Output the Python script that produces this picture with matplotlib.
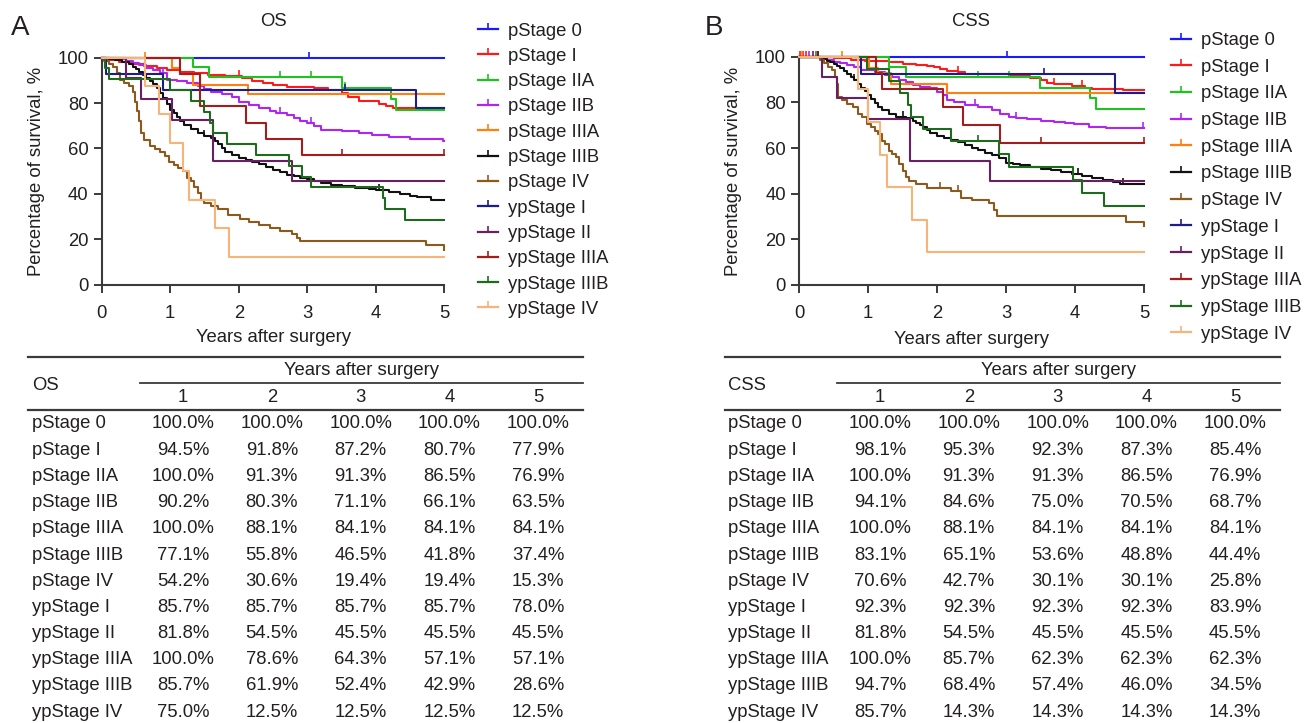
import numpy as np
import matplotlib
matplotlib.use("Agg")
import matplotlib.pyplot as plt
from matplotlib.lines import Line2D

plt.rcParams['font.family'] = ['Liberation Sans', 'DejaVu Sans']
plt.rcParams['font.size'] = 13.3

W, H = 1304, 723

# ---------------- data ----------------
groups = ["pStage 0", "pStage I", "pStage IIA", "pStage IIB", "pStage IIIA", "pStage IIIB",
          "pStage IV", "ypStage I", "ypStage II", "ypStage IIIA", "ypStage IIIB", "ypStage IV"]
colors = ["#1a1aff", "#ff1a1a", "#1fc21f", "#b026f0", "#ff7f10", "#111111",
          "#8c5a1c", "#1c1c8c", "#6a1f63", "#a51c1c", "#1e6b1e", "#f7b478"]

# OS Kaplan-Meier step points (time in years, survival %)
os_pstage0_t = []
os_pstage0_s = []
os_pstage1_t = [0.08, 0.25, 0.45, 0.62, 0.8, 0.95, 1.15, 1.35, 1.55, 1.8, 2.05, 2.2, 2.35, 2.5, 2.7,
                3.1, 3.3, 3.5, 3.6, 3.75, 4.05, 4.15, 4.25]
os_pstage1_s = [99.0, 98.0, 97.2, 96.4, 95.6, 94.5, 93.8, 93.0, 92.4, 91.8, 90.8, 89.8, 88.8, 88.0, 87.2,
                86.5, 85.8, 84.5, 82.5, 80.7, 79.6, 78.6, 77.9]
os_pstage2a_t = [1.33, 1.56, 3.50, 4.22, 4.30]
os_pstage2a_s = [95.7, 91.3, 86.5, 81.7, 76.9]
os_pstage2b_t = [0.2, 0.35, 0.45, 0.55, 0.65, 0.75, 0.85, 0.95, 1.1, 1.25, 1.4, 1.5, 1.6, 1.75, 1.9, 2.0,
                 2.15, 2.3, 2.45, 2.55, 2.7, 2.8, 2.9, 3.0, 3.1, 3.2, 3.5, 3.75, 3.95, 4.2, 4.5, 4.98]
os_pstage2b_s = [99.2, 98.4, 97.6, 96.8, 95.6, 94.4, 93.0, 90.2, 89.6, 88.8, 87.4, 86.0, 85.0, 84.0, 82.6, 80.3,
                 79.3, 78.0, 76.6, 75.8, 74.8, 73.6, 72.2, 71.1, 69.8, 68.3, 67.6, 67.0, 66.1, 65.0, 64.0, 63.5]
os_pstage3a_t = [1.02, 1.15, 1.33, 2.13]
os_pstage3a_s = [95.2, 92.9, 88.1, 84.1]
os_pstage3b_t = [0.1, 0.2, 0.3, 0.4, 0.45, 0.5, 0.55, 0.6, 0.65, 0.7, 0.75, 0.8, 0.85, 0.9, 0.95, 1.0,
                 1.05, 1.1, 1.15, 1.2, 1.3, 1.4, 1.5, 1.6, 1.65, 1.7, 1.75, 1.8, 1.9, 2.0, 2.1, 2.2,
                 2.3, 2.4, 2.5, 2.6, 2.7, 2.8, 2.9, 3.0, 3.1, 3.2, 3.35, 3.5, 3.7, 3.9, 4.0, 4.2,
                 4.35, 4.5, 4.6, 4.8]
os_pstage3b_s = [99.5, 99.0, 98.2, 97.0, 96.0, 95.0, 93.8, 92.5, 91.2, 89.8, 88.3, 86.8, 84.5, 82.0, 79.5, 77.1,
                 75.5, 73.8, 72.0, 70.5, 68.5, 66.8, 65.5, 64.5, 63.2, 61.8, 60.0, 58.5, 57.0, 55.8, 55.0, 54.2,
                 53.0, 51.8, 50.5, 49.5, 48.5, 47.8, 47.0, 46.5, 45.6, 44.8, 44.0, 43.3, 42.6, 42.0, 41.8, 41.0,
                 40.0, 39.0, 38.5, 37.4]
os_pstage4_t = [0.04, 0.1, 0.17, 0.22, 0.27, 0.33, 0.4, 0.45, 0.48, 0.51, 0.54, 0.57, 0.62, 0.7, 0.78,
                0.85, 0.92, 0.98, 1.05, 1.12, 1.18, 1.25, 1.3, 1.35, 1.4, 1.45, 1.5, 1.6, 1.7, 1.85,
                2.02, 2.15, 2.3, 2.45, 2.6, 2.78, 2.85, 2.9, 4.74, 5.0]
os_pstage4_s = [98.6, 97.2, 95.8, 93.0, 90.3, 88.9, 87.5, 84.7, 80.6, 76.4, 72.2, 66.7, 63.9, 61.1, 59.7,
                58.3, 56.9, 54.2, 52.8, 51.4, 50.0, 47.2, 45.8, 43.1, 40.3, 37.5, 36.1, 34.7, 33.3, 30.6,
                29.2, 27.8, 26.4, 25.0, 23.6, 22.2, 20.8, 19.4, 17.6, 15.3]
os_ypstage1_t = [0.06, 0.9, 4.58]
os_ypstage1_s = [92.9, 85.7, 78.0]
os_ypstage2_t = [0.36, 0.57, 1.02, 1.63, 2.77]
os_ypstage2_s = [90.9, 81.8, 72.7, 54.5, 45.5]
os_ypstage3a_t = [1.15, 1.43, 2.1, 2.4, 2.93]
os_ypstage3a_s = [92.9, 78.6, 71.4, 64.3, 57.1]
os_ypstage3b_t = [0.05, 0.1, 1.0, 1.3, 1.5, 1.58, 1.62, 1.83, 2.25, 2.73, 2.93, 3.06, 4.1, 4.13, 4.43]
os_ypstage3b_s = [95.2, 90.5, 85.7, 81.0, 76.2, 71.4, 66.7, 61.9, 57.1, 52.4, 47.6, 42.9, 38.1, 33.3, 28.6]
os_ypstage4_t = [0.63, 0.83, 1.0, 1.18, 1.28, 1.65, 1.86]
os_ypstage4_s = [87.5, 75.0, 62.5, 50.0, 37.5, 25.0, 12.5]

# CSS Kaplan-Meier step points
css_pstage0_t = []
css_pstage0_s = []
css_pstage1_t = [0.5, 0.75, 0.95, 1.3, 1.5, 1.7, 1.85, 1.95, 2.05, 2.15, 2.3, 2.4, 2.6, 3.05, 3.35, 3.5,
                 3.6, 3.7, 3.95, 4.15, 4.25, 4.7]
css_pstage1_s = [99.3, 98.7, 98.1, 97.6, 97.0, 96.4, 95.8, 95.3, 94.6, 93.9, 93.2, 92.6, 92.3, 91.6, 90.8, 89.8,
                 88.6, 88.0, 87.3, 86.5, 85.9, 85.4]
css_pstage2a_t = [1.31, 1.55, 3.49, 4.22, 4.30]
css_pstage2a_s = [95.7, 91.3, 86.5, 81.7, 76.9]
css_pstage2b_t = [0.3, 0.4, 0.5, 0.6, 0.7, 0.8, 0.9, 1.1, 1.25, 1.35, 1.45, 1.55, 1.65, 1.75, 1.9, 2.0,
                  2.08, 2.14, 2.25, 2.4, 2.6, 2.8, 2.92, 3.05, 3.15, 3.3, 3.5, 3.7, 3.85, 3.98, 4.2, 4.45]
css_pstage2b_s = [99.3, 98.5, 97.8, 97.1, 96.3, 95.6, 94.1, 93.4, 92.0, 91.2, 89.8, 89.0, 87.6, 86.8, 86.1, 84.6,
                  83.2, 81.0, 80.3, 78.8, 78.1, 76.6, 75.0, 73.7, 73.0, 72.5, 72.0, 71.5, 71.0, 70.5, 69.3, 68.7]
css_pstage3a_t = [1.02, 1.15, 1.33, 2.14]
css_pstage3a_s = [95.2, 92.9, 88.1, 84.1]
css_pstage3b_t = [0.3, 0.35, 0.4, 0.45, 0.5, 0.55, 0.6, 0.65, 0.7, 0.75, 0.8, 0.85, 0.9, 0.95, 1.0, 1.05,
                  1.1, 1.15, 1.2, 1.3, 1.4, 1.55, 1.65, 1.7, 1.75, 1.8, 1.85, 1.9, 2.0, 2.1, 2.2, 2.3,
                  2.4, 2.5, 2.6, 2.7, 2.8, 2.9, 3.0, 3.1, 3.2, 3.35, 3.5, 3.65, 3.8, 3.95, 4.1, 4.25,
                  4.4, 4.55, 4.65]
css_pstage3b_s = [99.5, 99.0, 98.3, 97.5, 96.6, 95.8, 95.0, 93.8, 92.5, 91.2, 89.8, 88.0, 86.5, 85.0, 83.1, 81.5,
                  79.6, 78.0, 76.5, 75.0, 73.8, 73.0, 72.0, 71.0, 70.0, 69.0, 67.8, 66.5, 65.1, 64.3, 63.5, 62.5,
                  61.3, 60.2, 59.0, 57.7, 56.8, 55.5, 53.6, 53.0, 52.5, 51.8, 51.0, 50.2, 49.5, 48.8, 47.6, 46.8,
                  46.0, 45.2, 44.4]
css_pstage4_t = [0.3, 0.36, 0.42, 0.48, 0.52, 0.55, 0.57, 0.62, 0.7, 0.78, 0.85, 0.92, 0.98, 1.05, 1.1,
                 1.15, 1.2, 1.25, 1.3, 1.35, 1.4, 1.45, 1.5, 1.55, 1.6, 1.7, 1.85, 2.2, 2.35, 2.5, 2.75,
                 2.82, 2.87, 4.74, 5.0]
css_pstage4_s = [98.5, 97.1, 95.6, 94.1, 91.2, 88.2, 82.4, 80.9, 79.4, 77.9, 75.0, 73.5, 70.6, 69.1, 67.6,
                 66.2, 63.2, 61.8, 58.8, 57.4, 55.9, 52.9, 50.0, 47.1, 45.6, 44.1, 42.7, 41.2, 38.2, 37.3, 35.8,
                 33.0, 30.1, 27.7, 25.8]
css_ypstage1_t = [0.9, 4.58]
css_ypstage1_s = [92.3, 83.9]
css_ypstage2_t = [0.33, 0.55, 1.0, 1.61, 2.77]
css_ypstage2_s = [90.9, 81.8, 72.7, 54.5, 45.5]
css_ypstage3a_t = [1.12, 1.2, 2.08, 2.38, 2.92]
css_ypstage3a_s = [92.9, 85.7, 77.9, 70.1, 62.3]
css_ypstage3b_t = [0.98, 1.3, 1.46, 1.58, 1.62, 1.8, 2.2, 2.9, 3.05, 3.97, 4.1, 4.42]
css_ypstage3b_s = [94.7, 89.5, 84.2, 78.9, 73.7, 68.4, 63.2, 57.4, 51.7, 46.0, 40.2, 34.5]
css_ypstage4_t = [0.85, 1.0, 1.17, 1.28, 1.64, 1.85]
css_ypstage4_s = [85.7, 71.4, 57.1, 42.9, 28.6, 14.3]

# censoring marks (times)
os_censor = {"pStage 0": [3.02], "pStage IIA": [2.6, 3.05, 3.55], "pStage IIIA": [0.63],
             "ypStage I": [3.55], "ypStage IIIA": [3.5, 5.0], "pStage IIB": [0.9, 2.6, 3.05],
             "pStage IIIB": [1.5, 4.05], "pStage I": [2.0]}
css_censor = {"pStage 0": [3.02], "pStage I": [0.02, 0.06, 0.1, 2.3, 3.7, 4.1], "pStage IIA": [2.6, 3.05],
              "pStage IIIA": [0.63, 0.05], "ypStage I": [3.55], "ypStage IIIA": [3.5, 5.0],
              "pStage IIB": [0.15, 2.55, 3.15, 4.98], "pStage IIIB": [0.28, 0.8, 1.5, 4.05, 4.7],
              "pStage IV": [0.25, 2.05, 2.3], "ypStage IIIB": [2.6], "ypStage II": [0.2]}

os_times = [os_pstage0_t, os_pstage1_t, os_pstage2a_t, os_pstage2b_t, os_pstage3a_t, os_pstage3b_t,
            os_pstage4_t, os_ypstage1_t, os_ypstage2_t, os_ypstage3a_t, os_ypstage3b_t, os_ypstage4_t]
os_surv = [os_pstage0_s, os_pstage1_s, os_pstage2a_s, os_pstage2b_s, os_pstage3a_s, os_pstage3b_s,
           os_pstage4_s, os_ypstage1_s, os_ypstage2_s, os_ypstage3a_s, os_ypstage3b_s, os_ypstage4_s]
css_times = [css_pstage0_t, css_pstage1_t, css_pstage2a_t, css_pstage2b_t, css_pstage3a_t, css_pstage3b_t,
             css_pstage4_t, css_ypstage1_t, css_ypstage2_t, css_ypstage3a_t, css_ypstage3b_t, css_ypstage4_t]
css_surv = [css_pstage0_s, css_pstage1_s, css_pstage2a_s, css_pstage2b_s, css_pstage3a_s, css_pstage3b_s,
            css_pstage4_s, css_ypstage1_s, css_ypstage2_s, css_ypstage3a_s, css_ypstage3b_s, css_ypstage4_s]

# table values
years = ["1", "2", "3", "4", "5"]
os_table = [
    ["100.0%", "100.0%", "100.0%", "100.0%", "100.0%"],
    ["94.5%", "91.8%", "87.2%", "80.7%", "77.9%"],
    ["100.0%", "91.3%", "91.3%", "86.5%", "76.9%"],
    ["90.2%", "80.3%", "71.1%", "66.1%", "63.5%"],
    ["100.0%", "88.1%", "84.1%", "84.1%", "84.1%"],
    ["77.1%", "55.8%", "46.5%", "41.8%", "37.4%"],
    ["54.2%", "30.6%", "19.4%", "19.4%", "15.3%"],
    ["85.7%", "85.7%", "85.7%", "85.7%", "78.0%"],
    ["81.8%", "54.5%", "45.5%", "45.5%", "45.5%"],
    ["100.0%", "78.6%", "64.3%", "57.1%", "57.1%"],
    ["85.7%", "61.9%", "52.4%", "42.9%", "28.6%"],
    ["75.0%", "12.5%", "12.5%", "12.5%", "12.5%"],
]
css_table = [
    ["100.0%", "100.0%", "100.0%", "100.0%", "100.0%"],
    ["98.1%", "95.3%", "92.3%", "87.3%", "85.4%"],
    ["100.0%", "91.3%", "91.3%", "86.5%", "76.9%"],
    ["94.1%", "84.6%", "75.0%", "70.5%", "68.7%"],
    ["100.0%", "88.1%", "84.1%", "84.1%", "84.1%"],
    ["83.1%", "65.1%", "53.6%", "48.8%", "44.4%"],
    ["70.6%", "42.7%", "30.1%", "30.1%", "25.8%"],
    ["92.3%", "92.3%", "92.3%", "92.3%", "83.9%"],
    ["81.8%", "54.5%", "45.5%", "45.5%", "45.5%"],
    ["100.0%", "85.7%", "62.3%", "62.3%", "62.3%"],
    ["94.7%", "68.4%", "57.4%", "46.0%", "34.5%"],
    ["85.7%", "14.3%", "14.3%", "14.3%", "14.3%"],
]

TXT = "#231f20"
SP = "#3a3a3a"
TICK_UP = [(0, 0), (0, 1)]   # censor mark: short upward tick

fig = plt.figure(figsize=(W / 100, H / 100), dpi=100)


def fx(px):
    return px / W


def fy(py):
    return 1 - py / H


def km_panel(ax, times, survs, censor):
    for name, t, s, c in zip(groups, times, survs, colors):
        x = [0.0] + list(t) + [5.0]
        y = [100.0] + list(s) + [s[-1] if len(s) else 100.0]
        ax.step(x, y, where="post", color=c, lw=1.5, clip_on=False, zorder=3)
        ct = censor.get(name, [])
        if ct:
            idx = np.searchsorted(np.array(t, dtype=float), ct, side="right")
            cy = [100.0 if i == 0 else s[i - 1] for i in idx]
            ax.plot(ct, cy, ls="none", marker=TICK_UP, ms=9, mew=1.2, color=c,
                    clip_on=False, zorder=3)
    ax.set_xlim(0, 5)
    ax.set_ylim(0, 100)
    ax.set_xticks(range(6))
    ax.set_yticks(range(0, 101, 20))
    for sp in ["top", "right"]:
        ax.spines[sp].set_visible(False)
    for sp in ["left", "bottom"]:
        ax.spines[sp].set_color(SP)
        ax.spines[sp].set_linewidth(1.5)
    ax.tick_params(axis="both", direction="out", length=5.5, width=1.4, color=SP,
                   labelsize=13.3, labelcolor=TXT)
    ax.tick_params(axis="x", pad=9)
    ax.tick_params(axis="y", pad=4)


axA = fig.add_axes([fx(101.7), fy(285), fx(444.3 - 101.7), (285 - 57.5) / H])
axB = fig.add_axes([fx(799), fy(285), fx(1144 - 799), (285 - 56.7) / H])
km_panel(axA, os_times, os_surv, os_censor)
km_panel(axB, css_times, css_surv, css_censor)

# titles, labels
fig.text(fx(273), fy(22), "OS", ha="center", va="center", color=TXT, fontsize=13.3)
fig.text(fx(971), fy(22), "CSS", ha="center", va="center", color=TXT, fontsize=13.3)
fig.text(fx(37), fy(171), "Percentage of survival, %", rotation=90, ha="center", va="center",
         color=TXT, fontsize=13.3)
fig.text(fx(733), fy(171), "Percentage of survival, %", rotation=90, ha="center", va="center",
         color=TXT, fontsize=13.3)
fig.text(fx(273), fy(338), "Years after surgery", ha="center", va="center", color=TXT, fontsize=13.3)
fig.text(fx(971), fy(339), "Years after surgery", ha="center", va="center", color=TXT, fontsize=13.3)
fig.text(fx(11), fy(28), "A", ha="left", va="center", color=TXT, fontsize=20)
fig.text(fx(705), fy(28), "B", ha="left", va="center", color=TXT, fontsize=20)

# legends
handles = [Line2D([], [], color=c, lw=1.6, marker=TICK_UP, ms=8, mew=1.2) for c in colors]
fig.legend(handles, groups, loc="upper left", bbox_to_anchor=(fx(478), fy(22.5)),
           bbox_transform=fig.transFigure, frameon=False, fontsize=13.3, numpoints=1,
           handlelength=1.1, handletextpad=0.55, labelspacing=0.45, borderpad=0,
           borderaxespad=0, labelcolor=TXT)
fig.legend(handles, groups, loc="upper left", bbox_to_anchor=(fx(1171), fy(32)),
           bbox_transform=fig.transFigure, frameon=False, fontsize=13.3, numpoints=1,
           handlelength=1.1, handletextpad=0.55, labelspacing=0.525, borderpad=0,
           borderaxespad=0, labelcolor=TXT)


# tables
def hline(x0, x1, y, lw):
    fig.add_artist(Line2D([fx(x0), fx(x1)], [fy(y), fy(y)], transform=fig.transFigure,
                          color=SP, lw=lw))


def draw_table(x0, x1, xsub, xlab, col0, title, values):
    hline(x0, x1, 357, 1.6)
    hline(xsub, x1, 383, 1.3)
    hline(x0, x1, 410, 1.6)
    fig.text(fx(xlab), fy(385), title, ha="left", va="center", color=TXT, fontsize=13.3)
    fig.text(fx((xsub + x1) / 2), fy(371), "Years after surgery", ha="center", va="center",
             color=TXT, fontsize=13.3)
    cols = [col0 + 88.8 * i for i in range(5)]
    for cx, yl in zip(cols, years):
        fig.text(fx(cx), fy(397), yl, ha="center", va="center", color=TXT, fontsize=13.3)
    for r, (name, row) in enumerate(zip(groups, values)):
        yy = 424 + 26.2 * r
        fig.text(fx(xlab), fy(yy), name, ha="left", va="center", color=TXT, fontsize=13.3)
        for cx, v in zip(cols, row):
            fig.text(fx(cx), fy(yy), v, ha="center", va="center", color=TXT, fontsize=13.3)


draw_table(28, 583, 140, 32, 183, "OS", os_table)
draw_table(725, 1280, 837, 728, 880, "CSS", css_table)

fig.savefig("out.png", dpi=100)
